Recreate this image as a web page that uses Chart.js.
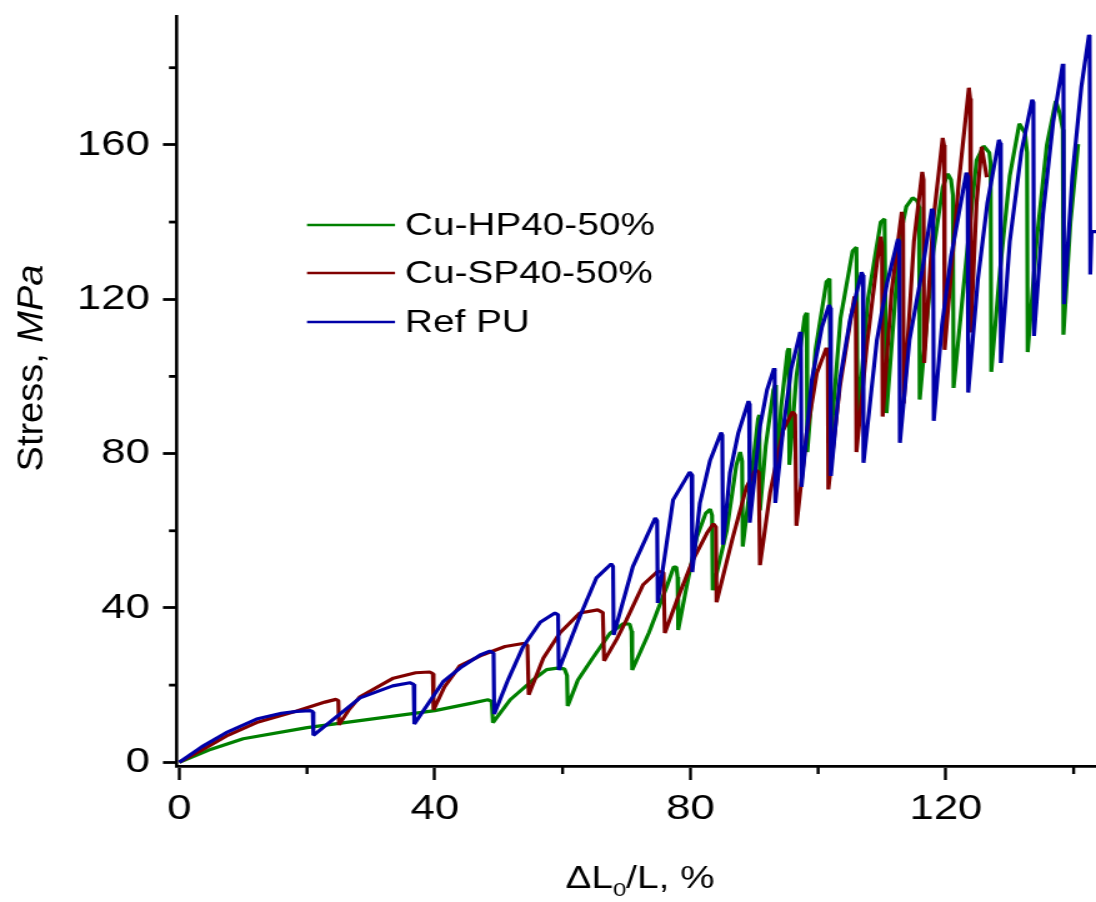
<!DOCTYPE html>
<html>
<head>
<meta charset="utf-8">
<script src="https://cdn.jsdelivr.net/npm/chart.js@4.4.0/dist/chart.umd.min.js"></script>
<style>
  html, body { margin: 0; padding: 0; background: #fff; overflow: hidden; }
  canvas { display: block; }
</style>
</head>
<body>
<canvas id="chart" width="877" height="902" style="width:1096px;height:902px"></canvas>
<script>
// text in the source figure is drawn about 25% wider than tall, so the whole
// canvas is laid out narrow and stretched back to 1096px
const SX = 1096 / 877;

// ── data ────────────────────────────────────────────────────────────────
const hpLabel = 'Cu-HP40-50%';
const hpX = [0, 5, 10, 20, 30, 40, 46, 48.3, 48.9, 49.1,
  51.8, 55.4, 57.5, 59.2, 60.3, 60.7, 60.8,
  62.4, 64.8, 67.4, 69.5, 70.5, 70.8, 70.9,
  73.5, 76.3, 77.4, 77.8, 78.0, 78.1,
  79.4, 81.0, 82.4, 83.1, 83.4, 83.5,
  85.7, 87.2, 87.8, 88.1, 88.2,
  89.8, 90.6, 90.8, 90.9,
  91.8, 93.0, 93.3, 93.4,
  94.2, 95.2, 95.4, 95.5,
  96.6, 97.9, 98.2, 98.3,
  99.6, 101.3, 101.8, 102.0,
  103.5, 105.4, 106.0, 106.2,
  107.8, 109.8, 110.4, 110.7,
  112.8, 113.8, 114.8, 115.5, 115.8, 115.9,
  118.0, 119.5, 120.3, 120.8, 121.1, 121.2,
  123.3, 124.8, 125.9, 126.8, 127.0, 127.1,
  128.5, 130.0, 131.5, 132.4, 132.7, 132.8,
  134.2, 135.8, 137.2, 137.8, 138.3, 138.4,
  139.5, 140.7];
const hpY = [0, 3.4, 6.1, 9.0, 11.2, 13.4, 15.4, 16.2, 15.8, 10.3,
  16.2, 21.4, 24.0, 24.4, 24.2, 22.5, 14.6,
  21.3, 27.2, 33.4, 35.9, 35.8, 34.0, 23.9,
  33.5, 45.5, 50.6, 50.6, 48.0, 34.3,
  45.4, 58.3, 64.5, 65.6, 64.0, 44.6,
  60.1, 77.0, 80.4, 78.0, 55.9,
  77.5, 89.0, 90.0, 65.3,
  82.0, 96.5, 97.8, 72.0,
  92.0, 106.5, 107.3, 77.1,
  100.0, 115.5, 116.5, 80.4,
  107.0, 124.5, 125.3, 84.0,
  115.0, 132.5, 133.5, 88.2,
  120.0, 140.0, 140.8, 90.5,
  136.0, 144.0, 146.3, 145.5, 144.0, 94.0,
  132.0, 149.0, 152.5, 151.0, 147.0, 97.0,
  132.0, 156.0, 159.7, 158.0, 155.0, 101.2,
  128.0, 152.0, 165.5, 163.0, 158.0, 106.3,
  135.0, 160.0, 171.4, 168.3, 164.0, 110.8,
  140.0, 160.2];

const spLabel = 'Cu-SP40-50%';
const spX = [0, 4, 7.6, 12.1, 18.4, 22.8, 24.5, 24.9, 25.0,
  26.5, 28.3, 33.5, 37.0, 39.2, 39.7, 39.8,
  41.5, 43.9, 47.1, 51.0, 53.8, 54.5, 54.7,
  57.0, 59.6, 62.7, 65.5, 66.3, 66.5,
  68.5, 70.0, 72.6, 74.9, 75.8, 76.0,
  77.9, 80.4, 82.6, 83.6, 84.0, 84.1,
  86.6, 88.8, 90.2, 90.7, 90.9,
  92.5, 94.5, 96.0, 96.4, 96.6,
  98.2, 99.8, 101.3, 101.5, 101.6,
  103.4, 105.0, 105.7, 105.9, 106.0,
  107.6, 109.2, 109.8, 110.0, 110.1,
  111.5, 113.1, 113.3, 113.4,
  115.0, 116.3, 116.5, 116.6,
  118.0, 119.5, 119.7, 119.8,
  122.0, 123.6, 123.8, 123.9,
  124.8, 125.6, 126.4];
const spY = [0, 3.6, 7.0, 10.3, 13.3, 15.6, 16.3, 16.0, 9.7,
  13.5, 17.0, 21.8, 23.2, 23.4, 23.0, 13.6,
  19.5, 25.0, 27.6, 30.0, 30.8, 30.4, 17.5,
  27.0, 33.6, 38.7, 39.5, 38.8, 26.3,
  32.0, 36.9, 46.0, 49.5, 49.2, 33.5,
  42.0, 52.4, 59.4, 61.8, 61.0, 41.5,
  58.0, 71.4, 75.8, 75.2, 51.1,
  70.0, 86.0, 90.8, 90.0, 61.3,
  85.0, 100.9, 107.4, 106.0, 70.7,
  97.3, 113.8, 120.7, 119.0, 80.4,
  107.6, 129.3, 136.2, 134.0, 89.6,
  122.0, 142.6, 140.0, 93.0,
  135.0, 153.0, 151.0, 103.5,
  140.0, 161.8, 160.0, 106.9,
  150.0, 174.8, 172.0, 111.4,
  145.0, 159.5, 151.6];

const refLabel = 'Ref PU';
const refX = [0, 3.5, 7.6, 12.1, 16, 18.4, 20.5, 20.9, 21.0,
  24.0, 28.3, 33.4, 36.1, 36.7, 36.8,
  41.3, 44.0, 47.1, 48.6, 49.2, 49.3,
  51.5, 53.8, 56.5, 58.8, 59.3, 59.4,
  62.7, 65.3, 67.6, 67.9, 68.0,
  71.0, 74.5, 74.8, 74.9,
  77.3, 79.9, 80.2, 80.3,
  81.5, 83.1, 84.8, 85.0, 85.1,
  86.2, 87.5, 89.1, 89.2, 89.3,
  90.9, 92.0, 93.1, 93.2, 93.3,
  94.5, 95.8, 97.2, 97.3, 97.4,
  99.0, 100.6, 101.7, 101.9, 102.0,
  103.4, 105.0, 106.8, 107.0, 107.1,
  109.2, 110.8, 112.5, 112.7, 112.8,
  114.3, 116.3, 117.8, 118.0, 118.1,
  119.4, 120.8, 123.2, 123.4, 123.5,
  125.0, 126.5, 128.3, 128.5, 128.6,
  130.0, 131.8, 133.5, 133.7, 133.8,
  135.2, 136.8, 138.3, 138.4, 138.5,
  139.8, 141.2, 142.4, 142.5, 142.6,
  142.8, 143.6];
const refY = [0, 4.0, 7.9, 11.2, 12.7, 13.2, 13.4, 13.1, 7.0,
  11.0, 16.7, 19.8, 20.6, 20.2, 9.9,
  20.9, 24.5, 27.8, 28.8, 28.3, 12.5,
  21.5, 29.9, 36.3, 38.7, 38.2, 23.9,
  37.8, 47.8, 51.4, 50.8, 33.0,
  50.7, 63.3, 62.6, 41.3,
  68.0, 75.2, 74.6, 49.3,
  67.2, 78.3, 85.4, 84.8, 56.4,
  75.0, 85.3, 93.6, 93.0, 62.1,
  87.0, 96.5, 102.1, 101.5, 67.2,
  86.0, 102.0, 111.5, 111.0, 71.4,
  99.0, 112.8, 118.5, 117.8, 74.2,
  99.0, 114.7, 127.0, 126.3, 77.6,
  109.4, 124.2, 135.6, 135.0, 82.8,
  109.4, 127.5, 143.4, 142.8, 88.5,
  113.5, 131.0, 152.8, 152.0, 95.8,
  125.0, 145.0, 161.3, 160.5, 103.5,
  135.0, 158.0, 171.7, 171.0, 110.5,
  142.0, 166.0, 181.0, 180.0, 118.7,
  152.0, 175.0, 188.5, 188.0, 126.4,
  137.5, 137.5];

const xMajor = [0, 40, 80, 120];
const xMinor = [20, 60, 100, 140];
const yMajor = [0, 40, 80, 120, 160];
const yMinor = [20, 60, 100, 140, 180];

const COLORS = { hp: '#008000', sp: '#800000', ref: '#0000a8', axis: '#000' };
const FONT = '"Liberation Sans", Arial, sans-serif';

function toPoints(xs, ys) {
  return xs.map((x, i) => ({ x, y: ys[i] }));
}

// ── plugins ─────────────────────────────────────────────────────────────

const minorTicks = {
  id: 'minorTicks',
  afterDraw(chart) {
    const { ctx, chartArea: a, scales: { x, y } } = chart;
    ctx.save();
    ctx.strokeStyle = COLORS.axis;
    ctx.lineWidth = 2.4;
    for (const v of xMinor) {
      const px = x.getPixelForValue(v);
      ctx.beginPath(); ctx.moveTo(px, a.bottom); ctx.lineTo(px, a.bottom + 8); ctx.stroke();
    }
    ctx.lineWidth = 2.8;
    for (const v of yMinor) {
      const py = y.getPixelForValue(v);
      ctx.beginPath(); ctx.moveTo(a.left, py); ctx.lineTo(a.left - 8 / SX, py); ctx.stroke();
    }
    ctx.restore();
  },
};

const axisTitles = {
  id: 'axisTitles',
  afterDraw(chart) {
    const { ctx } = chart;
    ctx.save();
    ctx.fillStyle = '#000';

    // x title: ΔL0/L, %
    const f = 31;
    const parts = [
      { t: '\u0394L', size: f, dy: 0 },
      { t: '0', size: f * 0.62, dy: 8 },
      { t: '/L, %', size: f, dy: 0 },
    ];
    let w = 0;
    for (const p of parts) { ctx.font = `${p.size}px ${FONT}`; p.w = ctx.measureText(p.t).width; w += p.w; }
    let cx = 640 / SX - w / 2;
    ctx.textBaseline = 'alphabetic';
    ctx.textAlign = 'left';
    for (const p of parts) {
      ctx.font = `${p.size}px ${FONT}`;
      ctx.fillText(p.t, cx, 888 + p.dy);
      cx += p.w;
    }

    // y title: Stress, MPa (rotated, kept unstretched)
    ctx.translate(43 / SX, 368);
    ctx.scale(1 / SX, 1);
    ctx.rotate(-Math.PI / 2);
    const a = 'Stress, ', b = 'MPa';
    ctx.font = `38px ${FONT}`;
    const wa = ctx.measureText(a).width;
    ctx.font = `italic 38px ${FONT}`;
    const wb = ctx.measureText(b).width;
    const x0 = -(wa + wb) / 2;
    ctx.font = `38px ${FONT}`;
    ctx.fillText(a, x0, 0);
    ctx.font = `italic 38px ${FONT}`;
    ctx.fillText(b, x0 + wa, 0);
    ctx.restore();
  },
};

const legendBox = {
  id: 'legendBox',
  afterDraw(chart) {
    const { ctx } = chart;
    const rows = [
      { label: hpLabel, color: COLORS.hp, y: 225 },
      { label: spLabel, color: COLORS.sp, y: 273 },
      { label: refLabel, color: COLORS.ref, y: 322 },
    ];
    ctx.save();
    ctx.font = `31px ${FONT}`;
    ctx.textBaseline = 'middle';
    ctx.textAlign = 'left';
    for (const r of rows) {
      ctx.strokeStyle = r.color;
      ctx.lineWidth = 2.7;
      ctx.beginPath(); ctx.moveTo(307 / SX, r.y); ctx.lineTo(395 / SX, r.y); ctx.stroke();
      ctx.fillStyle = '#000';
      ctx.fillText(r.label, 405 / SX, r.y + 1);
    }
    ctx.restore();
  },
};

// ── chart ───────────────────────────────────────────────────────────────

const lineStyle = { borderWidth: 3.2, pointRadius: 0, tension: 0, borderJoinStyle: 'bevel', fill: false };

new Chart(document.getElementById('chart'), {
  type: 'line',
  data: {
    datasets: [
      { label: hpLabel, data: toPoints(hpX, hpY), borderColor: COLORS.hp, order: 3, ...lineStyle },
      { label: spLabel, data: toPoints(spX, spY), borderColor: COLORS.sp, order: 2, ...lineStyle },
      { label: refLabel, data: toPoints(refX, refY), borderColor: COLORS.ref, order: 1, ...lineStyle },
    ],
  },
  options: {
    responsive: false,
    animation: false,
    devicePixelRatio: 1,
    layout: { padding: { top: 16, left: 0, right: 0, bottom: 0 } },
    plugins: { legend: { display: false }, tooltip: { enabled: false } },
    scales: {
      x: {
        type: 'linear',
        min: -0.36,
        max: 143.5,
        afterBuildTicks: s => { s.ticks = xMajor.map(v => ({ value: v })); },
        afterFit: s => { s.height = 136; s.paddingLeft = 0; s.paddingRight = 0; },
        grid: { drawOnChartArea: false, tickLength: 14, tickWidth: 2.4, tickColor: COLORS.axis },
        border: { color: COLORS.axis, width: 2.8 },
        ticks: { color: '#000', font: { family: FONT, size: 35 }, padding: 8, maxRotation: 0 },
      },
      y: {
        type: 'linear',
        min: -0.96,
        max: 193.4,
        afterBuildTicks: s => { s.ticks = yMajor.map(v => ({ value: v })); },
        afterFit: s => { s.width = 141.6; s.paddingTop = 0; s.paddingBottom = 0; },
        grid: { drawOnChartArea: false, tickLength: 14 / SX, tickWidth: 2.8, tickColor: COLORS.axis },
        border: { color: COLORS.axis, width: 2.6 },
        ticks: { color: '#000', font: { family: FONT, size: 35 }, padding: 10.4 },
      },
    },
  },
  plugins: [minorTicks, axisTitles, legendBox],
});
</script>
</body>
</html>
